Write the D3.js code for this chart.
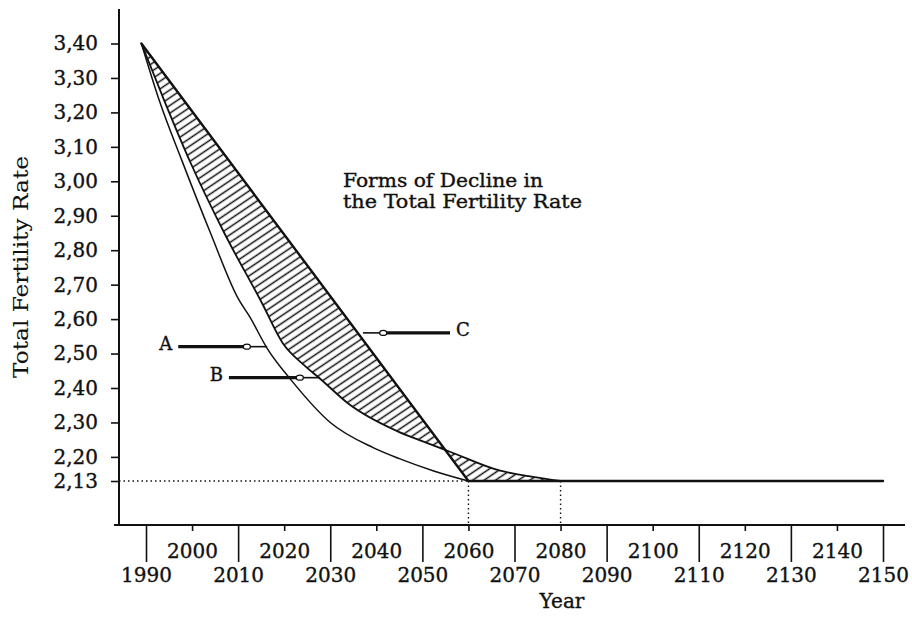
<!DOCTYPE html>
<html>
<head>
<meta charset="UTF-8">
<title>Forms of Decline in the Total Fertility Rate</title>
<script src="https://d3js.org/d3.v7.min.js"></script>
<style>
  body { margin: 0; background: #fff; }
  svg text { font-family: "DejaVu Serif", serif; fill: #111; stroke: #111; stroke-width: 0.35px; }
</style>
</head>
<body>
<svg id="chart" width="912" height="618"></svg>
<script>
// tick labels
const yTicks = [2.13, 2.20, 2.30, 2.40, 2.50, 2.60, 2.70, 2.80, 2.90, 3.00, 3.10, 3.20, 3.30, 3.40];
const xMajorTicks = [1990, 2010, 2030, 2050, 2070, 2090, 2110, 2130, 2150];
const xMinorTicks = [2000, 2020, 2040, 2060, 2080, 2100, 2120, 2140];

// three forms of decline [year, TFR]
const seriesA = [[1989, 3.40], [1993, 3.23], [1997.8, 3.06], [2004, 2.85], [2010, 2.66], [2012.6, 2.605],
                 [2016.3, 2.515], [2021.7, 2.42], [2030, 2.30], [2039.3, 2.227], [2045, 2.195],
                 [2052.3, 2.16], [2060, 2.13]];
const seriesB = [[1989, 3.40], [1994.1, 3.23], [1999.6, 3.056], [2007, 2.85], [2015.2, 2.646],
                 [2019.7, 2.53], [2024, 2.47], [2027.8, 2.427], [2033.9, 2.355], [2045, 2.272],
                 [2050.1, 2.245], [2056, 2.215], [2066.9, 2.16], [2074, 2.142], [2080, 2.13]];
const seriesC = [[1989, 3.40], [2060, 2.13], [2150, 2.13]];

const replacement = 2.13;

// pointer labels: value level, tip on the curve, knob, tail (years)
const pointers = [
  {name: 'A', value: 2.52, tip: 2016.3, knob: 2011.9, tail: 1997.0},
  {name: 'B', value: 2.43, tip: 2027.8, knob: 2023.4, tail: 2008.0},
  {name: 'C', value: 2.56, tip: 2037.1, knob: 2041.5, tail: 2056.0}
];

const svg = d3.select('#chart');

const x = d3.scaleLinear().domain([1990, 2150]).range([146, 883]);
const y = d3.scaleLinear().domain([2.0, 3.4]).range([525.8, 43.5]);

const axisX = 119, axisY = 525;

// hatch pattern
const defs = svg.append('defs');
const pat = defs.append('pattern')
  .attr('id', 'hatch')
  .attr('patternUnits', 'userSpaceOnUse')
  .attr('width', 10).attr('height', 6.4)
  .attr('patternTransform', 'rotate(-34)');
pat.append('line')
  .attr('x1', 0).attr('x2', 10).attr('y1', 3.2).attr('y2', 3.2)
  .attr('stroke', '#111').attr('stroke-width', 1.5);

// y axis
const yAxis = svg.append('g')
  .attr('transform', `translate(${axisX},0)`)
  .call(d3.axisLeft(y).tickValues(yTicks).tickSize(8).tickPadding(13)
    .tickFormat(d => d3.format('.2f')(d).replace('.', ',')));
yAxis.select('.domain').remove();
yAxis.selectAll('line').attr('stroke', '#111').attr('stroke-width', 1.6);
yAxis.selectAll('text').attr('font-size', 20).attr('font-family', '"DejaVu Serif", serif');

// x axis, two rows of labels
const xMinor = svg.append('g')
  .attr('transform', `translate(0,${axisY})`)
  .call(d3.axisBottom(x).tickValues(xMinorTicks).tickSize(6).tickFormat(d3.format('d')));
xMinor.selectAll('text').attr('y', 33).attr('dy', 0);

const xMajor = svg.append('g')
  .attr('transform', `translate(0,${axisY})`)
  .call(d3.axisBottom(x).tickValues(xMajorTicks).tickSize(37).tickFormat(d3.format('d')));
xMajor.selectAll('text').attr('y', 57).attr('dy', 0);

[xMinor, xMajor].forEach(g => {
  g.select('.domain').remove();
  g.selectAll('line').attr('stroke', '#111').attr('stroke-width', 1.6);
  g.selectAll('text').attr('font-size', 20).attr('font-family', '"DejaVu Serif", serif');
});

// axis lines
svg.append('line')
  .attr('x1', axisX).attr('x2', axisX).attr('y1', 9).attr('y2', axisY)
  .attr('stroke', '#111').attr('stroke-width', 2);
svg.append('line')
  .attr('x1', 114).attr('x2', 905).attr('y1', axisY).attr('y2', axisY)
  .attr('stroke', '#111').attr('stroke-width', 2);

// dotted reference lines at replacement level
const endA = seriesA[seriesA.length - 1][0];
const endB = seriesB[seriesB.length - 1][0];
svg.append('line')
  .attr('x1', axisX).attr('x2', x(endA))
  .attr('y1', y(replacement)).attr('y2', y(replacement))
  .attr('stroke', '#111').attr('stroke-width', 1.4).attr('stroke-dasharray', '1.5,3');
svg.selectAll('.vdot').data([endA, endB]).enter().append('line')
  .attr('class', 'vdot')
  .attr('x1', d => x(d)).attr('x2', d => x(d))
  .attr('y1', y(replacement)).attr('y2', axisY)
  .attr('stroke', '#111').attr('stroke-width', 1.4).attr('stroke-dasharray', '1.5,3');

// hatched area between B and C
const curve = d3.line().x(d => x(d[0])).y(d => y(d[1])).curve(d3.curveMonotoneX);
const straight = d3.line().x(d => x(d[0])).y(d => y(d[1]));

const backC = seriesC.filter(d => d[0] <= endB).reverse();
backC.unshift([endB, replacement]);
const hatchPath = curve(seriesB) + backC.map(d => `L${x(d[0])},${y(d[1])}`).join('') + 'Z';
svg.append('path')
  .attr('d', hatchPath)
  .attr('fill', 'url(#hatch)')
  .attr('stroke', 'none');

svg.append('path').datum(seriesA).attr('d', curve)
  .attr('fill', 'none').attr('stroke', '#111').attr('stroke-width', 1.5);
svg.append('path').datum(seriesB).attr('d', curve)
  .attr('fill', 'none').attr('stroke', '#111').attr('stroke-width', 1.8);
svg.append('path').datum(seriesC).attr('d', straight)
  .attr('fill', 'none').attr('stroke', '#111').attr('stroke-width', 2.4)
  .attr('stroke-linejoin', 'round').attr('stroke-linecap', 'round');

// pointers
const knobR = 3;
const pg = svg.selectAll('.pointer').data(pointers).enter().append('g').attr('class', 'pointer');
pg.append('line')
  .attr('x1', d => x(d.tail))
  .attr('x2', d => x(d.knob) + (d.tail < d.knob ? -knobR : knobR))
  .attr('y1', d => y(d.value)).attr('y2', d => y(d.value))
  .attr('stroke', '#111').attr('stroke-width', 3.4);
pg.append('line')
  .attr('x1', d => x(d.knob) + (d.tail < d.knob ? knobR : -knobR))
  .attr('x2', d => x(d.tip))
  .attr('y1', d => y(d.value)).attr('y2', d => y(d.value))
  .attr('stroke', '#111').attr('stroke-width', 1.6);
pg.append('ellipse')
  .attr('cx', d => x(d.knob)).attr('cy', d => y(d.value))
  .attr('rx', knobR + 0.5).attr('ry', knobR - 0.5)
  .attr('fill', '#fff').attr('stroke', '#111').attr('stroke-width', 1.3);
pg.append('text')
  .attr('x', d => x(d.tail) + (d.tail < d.tip ? -6 : 6))
  .attr('y', d => y(d.value) + 3)
  .attr('text-anchor', d => d.tail < d.tip ? 'end' : 'start')
  .attr('font-size', 18)
  .text(d => d.name);

// titles
svg.append('text').attr('x', 343).attr('y', 187).attr('font-size', 18)
  .attr('textLength', 200).attr('lengthAdjust', 'spacingAndGlyphs')
  .text('Forms of Decline in');
svg.append('text').attr('x', 343).attr('y', 208).attr('font-size', 18)
  .attr('textLength', 239).attr('lengthAdjust', 'spacingAndGlyphs')
  .text('the Total Fertility Rate');

svg.append('text')
  .attr('transform', 'translate(28,267) rotate(-90)')
  .attr('text-anchor', 'middle').attr('font-size', 20)
  .attr('textLength', 222).attr('lengthAdjust', 'spacingAndGlyphs')
  .style('stroke-width', '0.1px')
  .text('Total Fertility Rate');

svg.append('text')
  .attr('x', 562).attr('y', 608).attr('text-anchor', 'middle').attr('font-size', 20)
  .text('Year');
</script>
</body>
</html>
